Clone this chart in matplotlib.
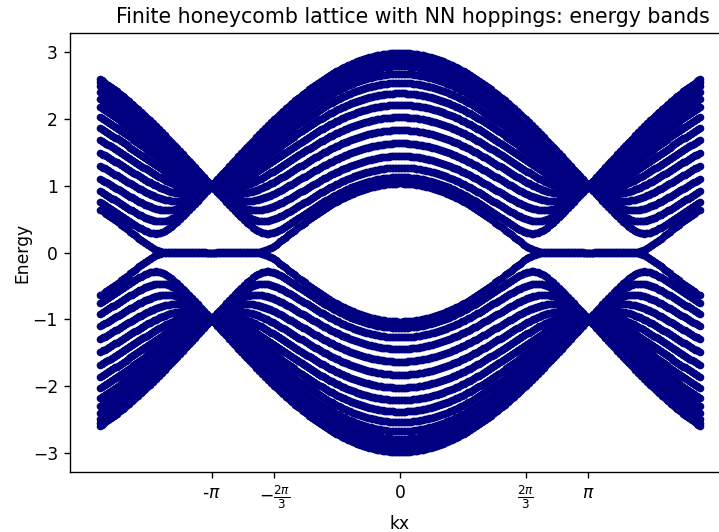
import numpy as np
import matplotlib
matplotlib.use("Agg")
import matplotlib.pyplot as plt

# model parameters of the zigzag ribbon shown in the chart
n_chains = 15          # number of zigzag chains across the ribbon
hopping = 1.0          # nearest-neighbour hopping t
kx_range = (-5.0, 5.0)
n_k = 400

tick_pos = [-np.pi, -2 * np.pi / 3, 0, 2 * np.pi / 3, np.pi]
tick_labels = ['-$\\pi$', r'$-\frac{2\pi}{3}$', '0', r'$\frac{2\pi}{3}$', r'$\pi$']


def ribbon_bands(kx):
    """Eigenvalues of the finite honeycomb (zigzag) ribbon for each kx."""
    dim = 2 * n_chains
    bands = np.zeros((len(kx), dim))
    for i, k in enumerate(kx):
        H = np.zeros((dim, dim))
        for n in range(n_chains):
            a, b = 2 * n, 2 * n + 1
            H[a, b] = H[b, a] = -2 * hopping * np.cos(k / 2)
            if n < n_chains - 1:
                H[b, b + 1] = H[b + 1, b] = -hopping
        bands[i] = np.linalg.eigvalsh(H)
    return bands


kx = np.linspace(kx_range[0], kx_range[1], n_k)
bands = ribbon_bands(kx)

dpi = 123
fig = plt.figure(figsize=(719 / dpi, 532 / dpi), dpi=dpi)
ax = fig.add_axes([70 / 719, 60 / 532, 660 / 719, 439 / 532])
for j in range(bands.shape[1]):
    ax.scatter(kx, bands[:, j], color='navy', s=20, linewidths=0)

ax.set_xticks(tick_pos)
ax.set_xticklabels(tick_labels)
ax.set_xlabel('kx', labelpad=2)
ax.set_ylabel('Energy', labelpad=1)
ax.set_title('Finite honeycomb lattice with NN hoppings: energy bands', x=0.52)
fig.savefig('out.png', dpi=dpi)
